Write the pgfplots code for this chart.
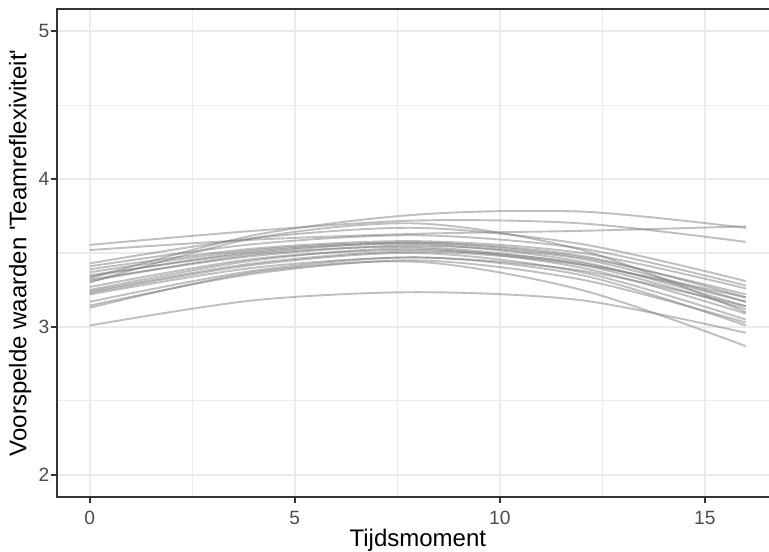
\documentclass[border=0pt]{standalone}
\usepackage{fontspec}
\setmainfont{Liberation Sans}
\usepackage{pgfplots}
\pgfplotsset{compat=1.18}
\definecolor{gridgray}{HTML}{EBEBEB}
\definecolor{framegray}{HTML}{333333}
\definecolor{ticktext}{HTML}{4D4D4D}
\definecolor{curvegray}{HTML}{7F7F7F}
\pgfplotsset{curve/.style={draw=curvegray, draw opacity=0.5, line width=0.95pt, smooth, mark=none}}

\begin{document}
\begin{tikzpicture}
\begin{axis}[
  name=ax,
  scale only axis,
  width=360.8pt, height=244pt,
  xmin=-0.8, xmax=16.8, ymin=1.85, ymax=5.15,
  xtick={0,5,10,15}, ytick={2,3,4,5},
  minor xtick={2.5,7.5,12.5}, minor ytick={2.5,3.5,4.5},
  grid=both,
  major grid style={draw=gridgray, line width=1.1pt},
  minor grid style={draw=gridgray, line width=0.55pt},
  tick pos=left, tick align=outside,
  major tick length=2.75pt, minor tick length=0pt,
  tick style={draw=framegray, line width=0.9pt},
  axis line style={draw=framegray, line width=0.9pt},
  /pgf/number format/assume math mode=true,
  ticklabel style={font=\fontsize{9.6}{11}\selectfont, text=ticktext, inner sep=0pt},
  xticklabel style={anchor=north, yshift=-4.0pt},
  yticklabel style={anchor=east, xshift=-0.9pt},
  xlabel={Tijdsmoment},
  ylabel={Voorspelde waarden \textquotesingle Teamreflexiviteit\textquotesingle},
  label style={font=\fontsize{12}{14}\selectfont},
  xlabel style={at={(axis description cs:0.5,-0.088)}, anchor=center},
  ylabel style={at={(axis description cs:-0.051,0.5)}, anchor=center},
]
% one curve per team: predicted values at t = 0, 4, 8, 12, 16
\addplot[curve] coordinates {(0,3.33) (4,3.62) (8,3.76) (12,3.78) (16,3.67)};
\addplot[curve] coordinates {(0,3.555) (4,3.65) (8,3.72) (12,3.70) (16,3.575)};
\addplot[curve] coordinates {(0,3.52) (4,3.59) (8,3.63) (12,3.65) (16,3.68)};
\addplot[curve] coordinates {(0,3.30) (4,3.60) (8,3.70) (12,3.52) (16,3.10)};
\addplot[curve] coordinates {(0,3.43) (4,3.60) (8,3.67) (12,3.56) (16,3.31)};
\addplot[curve] coordinates {(0,3.41) (4,3.56) (8,3.62) (12,3.53) (16,3.28)};
\addplot[curve] coordinates {(0,3.39) (4,3.53) (8,3.58) (12,3.50) (16,3.26)};
\addplot[curve] coordinates {(0,3.37) (4,3.52) (8,3.57) (12,3.47) (16,3.22)};
\addplot[curve] coordinates {(0,3.35) (4,3.50) (8,3.57) (12,3.48) (16,3.20)};
\addplot[curve] coordinates {(0,3.34) (4,3.51) (8,3.56) (12,3.44) (16,3.14)};
\addplot[curve] coordinates {(0,3.32) (4,3.48) (8,3.55) (12,3.46) (16,3.17)};
\addplot[curve] coordinates {(0,3.31) (4,3.49) (8,3.54) (12,3.42) (16,3.12)};
\addplot[curve] coordinates {(0,3.27) (4,3.46) (8,3.52) (12,3.43) (16,3.17)};
\addplot[curve] coordinates {(0,3.25) (4,3.45) (8,3.53) (12,3.40) (16,3.09)};
\addplot[curve] coordinates {(0,3.24) (4,3.43) (8,3.51) (12,3.42) (16,3.20)};
\addplot[curve] coordinates {(0,3.23) (4,3.42) (8,3.50) (12,3.37) (16,3.05)};
\addplot[curve] coordinates {(0,3.22) (4,3.40) (8,3.47) (12,3.38) (16,3.14)};
\addplot[curve] coordinates {(0,3.17) (4,3.38) (8,3.47) (12,3.35) (16,3.01)};
\addplot[curve] coordinates {(0,3.145) (4,3.36) (8,3.45) (12,3.32) (16,3.03)};
\addplot[curve] coordinates {(0,3.13) (4,3.37) (8,3.44) (12,3.25) (16,2.87)};
\addplot[curve] coordinates {(0,3.01) (4,3.18) (8,3.235) (12,3.18) (16,2.96)};
\end{axis}
\pgfresetboundingbox
\path[use as bounding box] ([shift={(-28.5pt,-27pt)}]ax.south west) rectangle ([shift={(356pt,248.5pt)}]ax.south west);
\end{tikzpicture}
\end{document}
